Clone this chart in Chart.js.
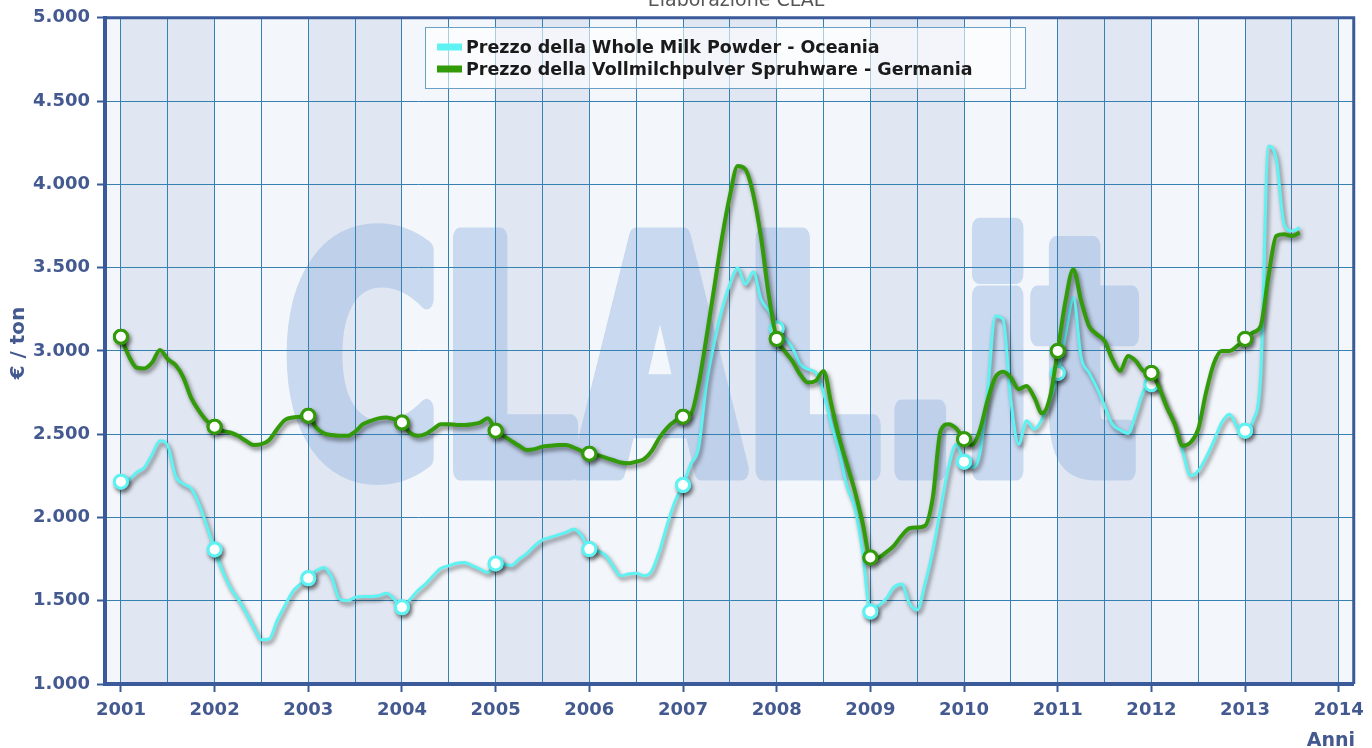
<!DOCTYPE html>
<html>
<head>
<meta charset="utf-8">
<script src="https://cdn.jsdelivr.net/npm/chart.js@4.4.0/dist/chart.umd.min.js"></script>
<style>
html, body { margin: 0; padding: 0; background: #ffffff; }
#wrap { width: 1372px; height: 748px; position: relative; }
</style>
</head>
<body>
<div id="wrap"><canvas id="milkChart"></canvas></div>
<script>
// monthly prices, Jan 2001 .. Aug 2013 (EUR / ton)
const firstYear = 2001;
const yearTicks = [2001, 2002, 2003, 2004, 2005, 2006, 2007, 2008, 2009, 2010, 2011, 2012, 2013, 2014];
const seriesLabels = [
    'Prezzo della Whole Milk Powder - Oceania',
    'Prezzo della Vollmilchpulver Spruhware - Germania'
];
const oceania = [
    2215, 2225, 2270, 2300, 2380, 2460, 2430, 2250, 2200, 2174, 2080, 1950,
    1808, 1680, 1580, 1510, 1430, 1340, 1265, 1270, 1380, 1470, 1555, 1600,
    1635, 1680, 1700, 1640, 1510, 1500, 1520, 1525, 1525, 1530, 1545, 1510,
    1461, 1505, 1560, 1600, 1650, 1695, 1710, 1725, 1730, 1710, 1690, 1670,
    1724, 1720, 1712, 1750, 1784, 1830, 1865, 1880, 1895, 1910, 1930, 1890,
    1810, 1800, 1775, 1710, 1650, 1660, 1665, 1650, 1680, 1800, 1960, 2100,
    2195, 2320, 2420, 2800, 3050, 3250, 3400, 3497, 3400, 3475, 3310, 3240,
    3135, 3080, 3020, 2920, 2890, 2870, 2750, 2560, 2400, 2190, 2060, 1800,
    1435, 1470, 1510, 1580, 1600, 1485, 1445, 1600, 1800, 2050, 2300, 2440,
    2335, 2300, 2380, 2750, 3210, 3190, 2700, 2440, 2580, 2530, 2590, 2700,
    2868, 3100, 3320, 2960, 2870, 2780, 2670, 2560, 2525, 2505, 2620, 2760,
    2800, 2760, 2660, 2560, 2400, 2250, 2280, 2360, 2460, 2570, 2620, 2545,
    2521, 2580, 2850, 4230, 4150, 3760, 3720, 3740
];
const germania = [
    3085, 2970, 2900, 2895, 2930, 3006, 2950, 2915, 2840, 2718, 2640, 2580,
    2545, 2520, 2510, 2490, 2460, 2435, 2440, 2465, 2530, 2585, 2600, 2605,
    2611, 2540, 2505, 2495, 2490, 2490, 2515, 2560, 2580, 2595, 2600, 2590,
    2570, 2510, 2490, 2500, 2530, 2560, 2560, 2555, 2555, 2560, 2570, 2595,
    2521, 2490, 2460, 2430, 2405, 2410, 2425, 2430, 2435, 2435, 2420, 2400,
    2383, 2375, 2360, 2345, 2330, 2325, 2335, 2350, 2400, 2480, 2540, 2580,
    2605, 2620, 2800, 3080, 3380, 3680, 3930, 4110, 4090, 3940, 3680, 3330,
    3072, 3000, 2940, 2860, 2810, 2820, 2880, 2680, 2480, 2320, 2160, 1970,
    1760, 1760, 1790, 1830, 1890, 1935, 1940, 1950, 2120, 2520, 2560, 2535,
    2470, 2435, 2520, 2700, 2840, 2875, 2840, 2770, 2790, 2720, 2625, 2720,
    3000, 3300, 3490, 3300, 3150, 3100, 3060, 2950, 2880, 2970, 2940, 2880,
    2868, 2780, 2660, 2560, 2430, 2450, 2530, 2750, 2925, 3000, 3000, 3030,
    3072, 3110, 3150, 3450, 3690, 3700, 3690, 3710
];

const FONT = "'DejaVu Sans', Verdana, sans-serif";
const AXIS_BLUE = '#3b5a9a';
const LABEL_BLUE = '#43598f';
const GRID = '#3582b2';
const CYAN = '#5ef2f2';
const GREEN = '#339a0a';

const toPoints = arr => arr.map((v, i) => ({ x: firstYear + i / 12, y: v }));
const gridTicks = [];
yearTicks.forEach(y => { gridTicks.push(y); if (y < 2014) gridTicks.push(y + 0.5); });

function euro(v) {
    return Math.floor(v / 1000) + '.' + String(v % 1000).padStart(3, '0');
}
function markerRadius(ctx) {
    return ctx.dataIndex % 12 === 0 ? 6.5 : 0;
}

const backdrop = {
    id: 'backdrop',
    beforeDraw(chart) {
        const { ctx, chartArea: a, scales: { x } } = chart;
        ctx.save();
        ctx.fillStyle = '#f3f7fb';
        ctx.fillRect(a.left, a.top, a.right - a.left, a.bottom - a.top);
        ctx.fillStyle = '#e0e7f2';
        yearTicks.forEach(y => {
            if (y % 2 === 1 && y < 2014) {
                const x0 = x.getPixelForValue(y), x1 = x.getPixelForValue(y + 1);
                ctx.fillRect(x0, a.top, x1 - x0, a.bottom - a.top);
            }
        });
        ctx.restore();

        // CLAL.it watermark, drawn as a single flat shape
        const off = document.createElement('canvas');
        off.width = chart.width; off.height = chart.height;
        const o = off.getContext('2d');
        o.translate(283, 470);
        o.scale(0.64, 0.95);
        o.font = 'bold 335px ' + FONT;
        o.lineJoin = 'round';
        o.lineWidth = 22;
        o.fillStyle = '#000';
        o.strokeStyle = '#000';
        o.fillText('CLAL.it', 0, 0);
        o.strokeText('CLAL.it', 0, 0);
        o.setTransform(1, 0, 0, 1, 0, 0);
        o.globalCompositeOperation = 'source-in';
        o.fillStyle = 'rgba(150,180,225,0.45)';
        o.fillRect(0, 0, off.width, off.height);

        ctx.save();
        ctx.beginPath();
        ctx.rect(a.left, a.top, a.right - a.left, a.bottom - a.top);
        ctx.clip();
        ctx.drawImage(off, 0, 0);
        ctx.restore();
    }
};

const shadow = {
    id: 'shadow',
    beforeDatasetDraw(chart) {
        const c = chart.ctx;
        c.save();
        c.shadowColor = 'rgba(0,0,0,0.5)';
        c.shadowBlur = 4;
        c.shadowOffsetX = 2;
        c.shadowOffsetY = 3;
    },
    afterDatasetDraw(chart, args) {
        chart.ctx.restore();
        // repaint the markers without shadow so their centres stay white
        const meta = chart.getDatasetMeta(args.index);
        meta.data.forEach(pt => pt.draw(chart.ctx, chart.chartArea));
    }
};

const decorations = {
    id: 'decorations',
    afterDraw(chart) {
        const { ctx, chartArea: a } = chart;
        ctx.save();
        // top and right frame
        ctx.strokeStyle = AXIS_BLUE;
        ctx.lineWidth = 3;
        ctx.beginPath();
        ctx.moveTo(a.left, a.top);
        ctx.lineTo(a.right, a.top);
        ctx.lineTo(a.right, a.bottom);
        ctx.stroke();

        // subtitle, cut by the top edge
        ctx.fillStyle = '#555555';
        ctx.font = '19px ' + FONT;
        ctx.textAlign = 'center';
        ctx.textBaseline = 'alphabetic';
        ctx.fillText('Elaborazione CLAL', 736, 6);

        // axis titles
        ctx.fillStyle = LABEL_BLUE;
        ctx.font = 'bold 19px ' + FONT;
        ctx.fillText('Anni', 1331, 746);
        ctx.translate(19, 343);
        ctx.rotate(-Math.PI / 2);
        ctx.textBaseline = 'middle';
        ctx.font = 'bold 20px ' + FONT;
        ctx.fillText('€ / ton', 0, 0);
        ctx.restore();

        // legend
        ctx.save();
        ctx.fillStyle = 'rgba(255,255,255,0.6)';
        ctx.fillRect(425, 27, 600, 61);
        ctx.strokeStyle = '#6a9fc6';
        ctx.lineWidth = 1;
        ctx.strokeRect(425.5, 27.5, 600, 61);
        ctx.font = 'bold 17.5px ' + FONT;
        ctx.textBaseline = 'middle';
        ctx.textAlign = 'left';
        chart.data.datasets.forEach((ds, i) => {
            const yy = 47 + i * 22;
            ctx.fillStyle = ds.borderColor;
            ctx.fillRect(437, yy - 3.5, 25, 7);
            ctx.fillStyle = '#1a1a1a';
            ctx.fillText(ds.label, 466, yy + 1);
        });
        ctx.restore();
    }
};

new Chart(document.getElementById('milkChart'), {
    type: 'line',
    data: {
        datasets: [
            {
                label: seriesLabels[0],
                data: toPoints(oceania),
                borderColor: CYAN,
                borderWidth: 3,
                pointRadius: markerRadius,
                pointBackgroundColor: '#ffffff',
                pointBorderColor: CYAN,
                pointBorderWidth: 3,
                pointHoverRadius: 0,
                cubicInterpolationMode: 'monotone',
                order: 2
            },
            {
                label: seriesLabels[1],
                data: toPoints(germania),
                borderColor: GREEN,
                borderWidth: 4,
                pointRadius: markerRadius,
                pointBackgroundColor: '#ffffff',
                pointBorderColor: GREEN,
                pointBorderWidth: 3,
                pointHoverRadius: 0,
                cubicInterpolationMode: 'monotone',
                order: 1
            }
        ]
    },
    options: {
        responsive: true,
        maintainAspectRatio: false,
        animation: false,
        layout: { padding: { top: 16, right: 16, left: 0, bottom: 0 } },
        plugins: {
            legend: { display: false },
            tooltip: { enabled: false }
        },
        scales: {
            x: {
                type: 'linear',
                min: 2000.83,
                max: 2014.16,
                afterBuildTicks: axis => { axis.ticks = gridTicks.map(v => ({ value: v })); },
                afterFit: axis => { axis.height = 64; },
                ticks: {
                    autoSkip: false,
                    maxRotation: 0,
                    padding: 8,
                    color: LABEL_BLUE,
                    font: { family: FONT, size: 18, weight: 'bold' },
                    callback: v => (v % 1 === 0 ? String(v) : '')
                },
                grid: {
                    color: GRID,
                    lineWidth: 1,
                    tickLength: 8,
                    tickWidth: 2,
                    tickColor: ctx => (ctx.tick && ctx.tick.value % 1 === 0 ? AXIS_BLUE : 'rgba(0,0,0,0)')
                },
                border: { display: true, color: AXIS_BLUE, width: 4 }
            },
            y: {
                min: 1000,
                max: 5000,
                afterFit: axis => { axis.width = 105; },
                ticks: {
                    stepSize: 500,
                    padding: 7,
                    color: LABEL_BLUE,
                    font: { family: FONT, size: 18, weight: 'bold' },
                    callback: v => euro(v)
                },
                grid: {
                    color: GRID,
                    lineWidth: 1,
                    tickLength: 8,
                    tickWidth: 2,
                    tickColor: AXIS_BLUE
                },
                border: { display: true, color: AXIS_BLUE, width: 4 }
            }
        }
    },
    plugins: [backdrop, shadow, decorations]
});
</script>
</body>
</html>
